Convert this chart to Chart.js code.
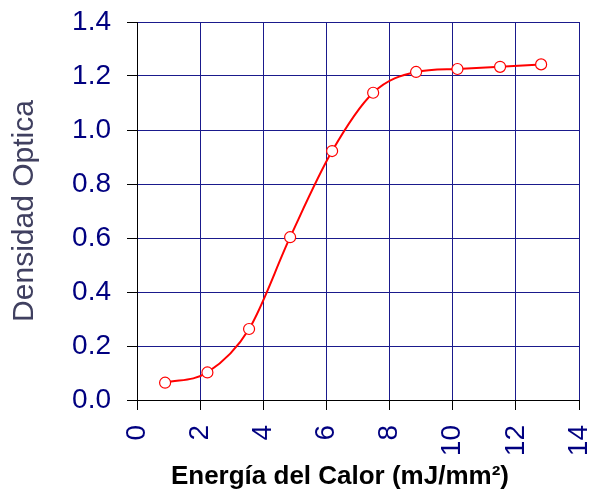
<!DOCTYPE html>
<html>
<head>
<meta charset="utf-8">
<script src="https://cdn.jsdelivr.net/npm/chart.js@4/dist/chart.umd.min.js"></script>
<style>
  html, body { margin: 0; padding: 0; background: #fff; }
  #wrap { width: 589px; height: 492px; }
</style>
</head>
<body>
<div id="wrap"><canvas id="grafico" width="589" height="492"></canvas></div>
<script>
// energía (mJ/mm²) y densidad óptica
const energia = [0.89, 2.23, 3.55, 4.85, 6.18, 7.48, 8.84, 10.15, 11.5, 12.8];
const densidad = [0.064, 0.102, 0.263, 0.603, 0.922, 1.138, 1.215, 1.226, 1.234, 1.243];

const tituloX = 'Energía del Calor (mJ/mm²)';
const tituloY = 'Densidad Optica';

const AZUL = '#000080';
const GRID = '#1a1a8c';

const puntos = energia.map((x, i) => ({ x: x, y: densidad[i] }));

const ctx = document.getElementById('grafico').getContext('2d');
new Chart(ctx, {
  type: 'scatter',
  data: {
    datasets: [{
      data: puntos,
      showLine: true,
      borderColor: '#ff0000',
      borderWidth: 2,
      cubicInterpolationMode: 'monotone',
      pointRadius: 5.5,
      pointBackgroundColor: '#ffffff',
      pointBorderColor: '#ff0000',
      pointBorderWidth: 1.2
    }]
  },
  options: {
    responsive: false,
    animation: false,
    layout: { padding: { top: 22, right: 10, bottom: 0, left: 0 } },
    plugins: {
      legend: { display: false },
      tooltip: { enabled: false }
    },
    scales: {
      x: {
        type: 'linear',
        min: 0,
        max: 14,
        afterFit: s => {
          s.height = 92;
          s.paddingLeft = 0;
          s.paddingRight = 0;
        },
        ticks: {
          stepSize: 2,
          minRotation: 90,
          maxRotation: 90,
          padding: 15,
          color: AZUL,
          font: { family: 'Liberation Sans, Arial', size: 28, lineHeight: 0.8 }
        },
        grid: { color: GRID, lineWidth: 1, tickColor: '#000', tickLength: 10 },
        border: { color: '#000', width: 1, z: 1 },
        title: {
          display: true,
          // espacios finos al final para correr el título un poco a la izquierda
          text: tituloX + '\u00a0\u00a0\u00a0\u00a0\u00a0',
          color: '#000',
          padding: { top: 0, bottom: 0 },
          font: { family: 'Liberation Sans, Arial', size: 26, weight: 'bold' }
        }
      },
      y: {
        min: 0,
        max: 1.4,
        afterFit: s => {
          s.width = 137;
          s.paddingTop = 0;
          s.paddingBottom = 0;
        },
        ticks: {
          stepSize: 0.2,
          padding: 16,
          color: AZUL,
          font: { family: 'Liberation Sans, Arial', size: 28 },
          callback: v => v.toFixed(1)
        },
        grid: { color: GRID, lineWidth: 1, tickColor: '#000', tickLength: 10 },
        border: { color: '#000', width: 1, z: 1 },
        title: {
          display: true,
          text: tituloY,
          color: '#404060',
          padding: { top: 7, bottom: 0 },
          font: { family: 'Liberation Sans, Arial', size: 30 }
        }
      }
    }
  }
});
</script>
</body>
</html>
